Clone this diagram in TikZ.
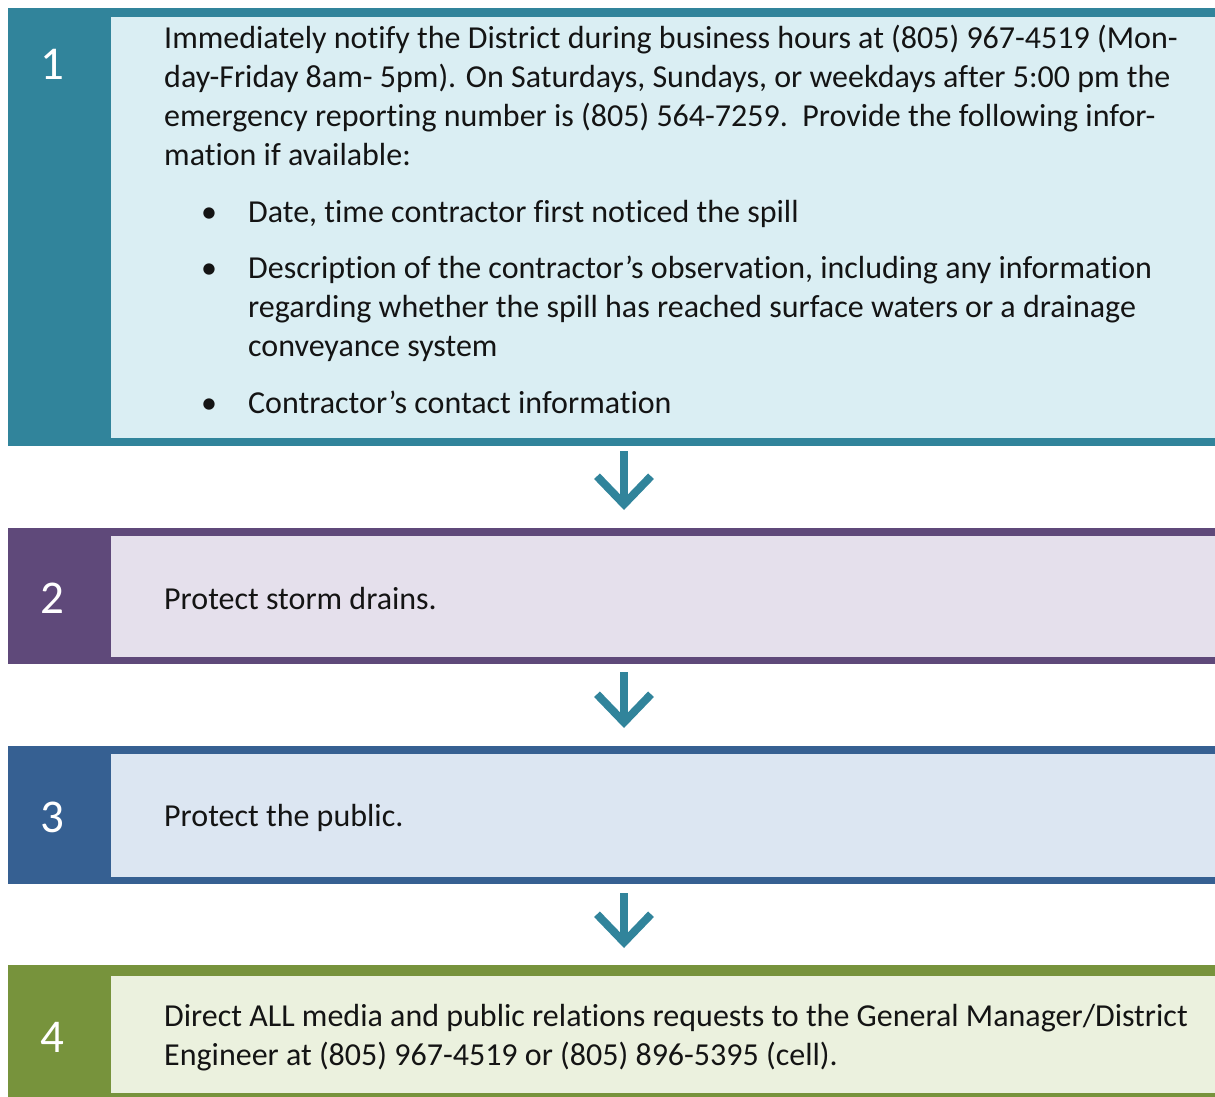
\documentclass[tikz,border=0pt]{standalone}
\usepackage{fontspec}
\setmainfont[Ligatures={TeX,NoCommon}]{Carlito}
\usepackage{xcolor}
\definecolor{stepteal}{HTML}{31849B}
\definecolor{stepteallight}{HTML}{DAEEF3}
\definecolor{steppurple}{HTML}{5F497A}
\definecolor{steppurplelight}{HTML}{E5E0EC}
\definecolor{stepblue}{HTML}{366092}
\definecolor{stepbluelight}{HTML}{DCE6F2}
\definecolor{stepgreen}{HTML}{77933C}
\definecolor{stepgreenlight}{HTML}{EBF1DE}
\definecolor{steptext}{HTML}{141414}
\usetikzlibrary{arrows.meta, positioning}

\begin{document}
\begin{tikzpicture}[
    x=1pt, y=-1pt,
    band/.style={rectangle, inner sep=0, outer sep=0, anchor=north west, minimum width=1207pt},
    panel/.style={rectangle, inner sep=0, outer sep=0, anchor=north west, minimum width=1104pt},
    num/.style={font=\fontsize{47}{50}\selectfont, text=white},
    steptxt/.style={inner sep=0, font=\fontsize{32}{39}\selectfont, align=left, text=steptext},
    flow/.style={draw=stepteal, line width=8pt, -{Straight Barb[length=28pt, width=54pt]}}
]
\useasboundingbox (0,0) rectangle (1215,1097);

% === Step 1 ===
\node[band, fill=stepteal, minimum height=438pt] (s1) at (8,8) {};
\node[panel, fill=stepteallight, minimum height=421pt] (p1) at (111,17) {};
\node[num] (n1) at (52,64) {1};
\node[steptxt, anchor=north west] (t1) at (164,25) {%
    Immediately notify the District during business hours at (805) 967-4519 (Mon-\\
    day-Friday 8am- 5pm). On Saturdays, Sundays, or weekdays after 5:00 pm the\\
    emergency reporting number is (805) 564-7259.\ \ Provide the following infor-\\
    mation if available:\\[18pt]
    \hspace*{37pt}\makebox[47pt][l]{\textbullet}Date, time contractor first noticed the spill\\[17pt]
    \hspace*{37pt}\makebox[47pt][l]{\textbullet}Description of the contractor’s observation, including any information\\
    \hspace*{84pt}regarding whether the spill has reached surface waters or a drainage\\
    \hspace*{84pt}conveyance system\\[18pt]
    \hspace*{37pt}\makebox[47pt][l]{\textbullet}Contractor’s contact information};

% === Step 2 ===
\node[band, fill=steppurple, minimum height=136pt] (s2) at (8,528) {};
\node[panel, fill=steppurplelight, minimum height=121pt] (p2) at (111,536) {};
\node[num] (n2) at (52,598) {2};
\node[steptxt, anchor=west] (t2) at (164,599) {Protect storm drains.};

% === Step 3 ===
\node[band, fill=stepblue, minimum height=138pt] (s3) at (8,746) {};
\node[panel, fill=stepbluelight, minimum height=123pt] (p3) at (111,754) {};
\node[num] (n3) at (52,817) {3};
\node[steptxt, anchor=west] (t3) at (164,818) {Protect the public.};

% === Step 4 ===
\node[band, fill=stepgreen, minimum height=132pt] (s4) at (8,965) {};
\node[panel, fill=stepgreenlight, minimum height=117pt] (p4) at (111,976) {};
\node[num] (n4) at (52,1037) {4};
\node[steptxt, anchor=west] (t4) at (164,1038) {%
    Direct ALL media and public relations requests to the General Manager/District\\
    Engineer at (805) 967-4519 or (805) 896-5395 (cell).};

% === Flechas entre pasos ===
\coordinate (ax) at (624,0);
\draw[flow, shorten <=5pt, shorten >=18pt] (s1.south -| ax) -- (s2.north -| ax);
\draw[flow, shorten <=8pt, shorten >=18pt] (s2.south -| ax) -- (s3.north -| ax);
\draw[flow, shorten <=9pt, shorten >=17pt] (s3.south -| ax) -- (s4.north -| ax);

\end{tikzpicture}
\end{document}
